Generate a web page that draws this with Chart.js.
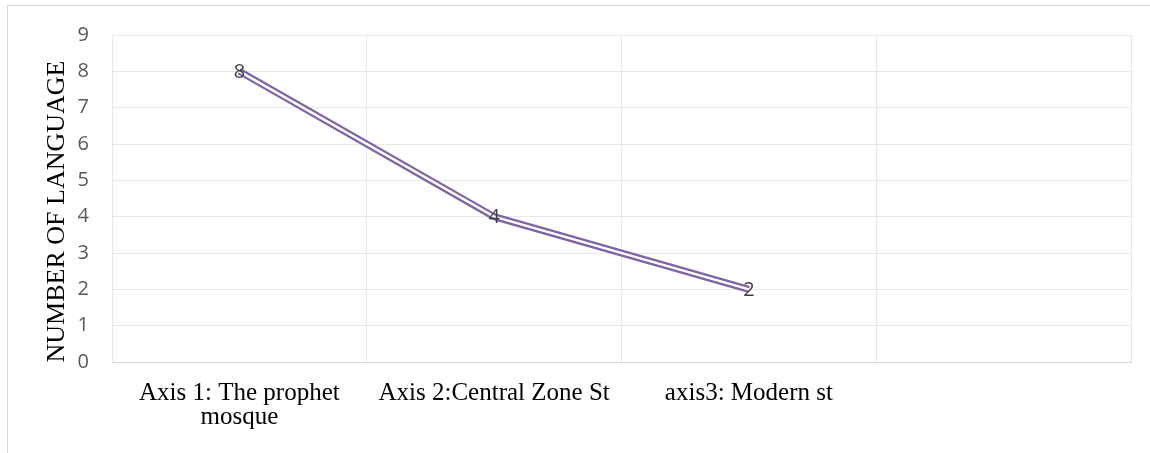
<!DOCTYPE html>
<html lang="en">
    <head>
        <meta charset="UTF-8">
        <title>Number of language</title>
        <script src="https://cdn.jsdelivr.net/npm/chart.js"></script>
        <style>
            body { margin: 0; background: #fff; }
            .wrap { position: relative; width: 1150px; height: 453px; }
            .frame { position: absolute; left: 7px; top: 5px; right: 0; bottom: 0; border-top: 1px solid #d9d9d9; border-left: 1px solid #d9d9d9; }
            #grafico { position: absolute; left: 0; top: 0; }
        </style>
    </head>
    <body>
        <div class="wrap">
            <div class="frame"></div>
            <canvas id="grafico" width="1150" height="453"></canvas>
        </div>
        <script>
            // datos
            const categorias = [
                ['Axis 1: The prophet', 'mosque'],
                'Axis 2:Central Zone St',
                'axis3: Modern st',
                ''
            ];
            const valores = [8, 4, 2, null];
            const ticksY = [0, 1, 2, 3, 4, 5, 6, 7, 8, 9];
            const tituloY = 'NUMBER OF LANGUAGE    ';

            const morado = '#7f63a6';

            // etiquetas de datos en el centro de cada punto
            const etiquetas = {
                id: 'etiquetas',
                afterDatasetsDraw(chart) {
                    const ctx = chart.ctx;
                    const meta = chart.getDatasetMeta(1);
                    ctx.save();
                    ctx.font = '20px "Open Sans"';
                    ctx.fillStyle = '#404040';
                    ctx.textAlign = 'center';
                    ctx.textBaseline = 'middle';
                    meta.data.forEach((p, i) => {
                        if (valores[i] == null) return;
                        ctx.fillText(String(valores[i]), p.x, p.y + 1);
                    });
                    ctx.restore();
                }
            };

            const ctx = document.getElementById('grafico').getContext('2d');
            new Chart(ctx, {
                type: 'line',
                data: {
                    labels: categorias,
                    datasets: [{
                        // linea blanca interior (linea doble)
                        data: valores,
                        borderColor: '#ffffff',
                        borderWidth: 2.5,
                        pointRadius: 0,
                        order: 0
                    }, {
                        data: valores,
                        borderColor: morado,
                        borderWidth: 7,
                        pointRadius: 0,
                        order: 1
                    }]
                },
                options: {
                    responsive: false,
                    animation: false,
                    layout: { padding: { top: 34, right: 19, left: 0, bottom: 0 } },
                    plugins: {
                        legend: { display: false },
                        tooltip: { enabled: false }
                    },
                    scales: {
                        x: {
                            offset: true,
                            grid: { offset: true, color: '#e8e8e8', drawTicks: false },
                            border: { color: '#d9d9d9' },
                            ticks: {
                                color: '#000',
                                font: { family: '"Liberation Serif"', size: 25, lineHeight: 0.96 },
                                padding: 19,
                                maxRotation: 0,
                                autoSkip: false
                            },
                            afterFit(scale) { scale.height = 91; }
                        },
                        y: {
                            min: 0,
                            max: 9,
                            afterBuildTicks(scale) { scale.ticks = ticksY.map(v => ({ value: v })); },
                            grid: { color: '#e8e8e8', drawTicks: false },
                            border: { display: false },
                            ticks: {
                                color: '#595959',
                                font: { family: '"Open Sans"', size: 20 },
                                padding: 23
                            },
                            title: {
                                display: true,
                                text: tituloY,
                                color: '#000',
                                font: { family: '"Liberation Serif"', size: 26 },
                                padding: { top: 42, bottom: 0 }
                            },
                            afterFit(scale) { scale.width = 112; }
                        }
                    }
                },
                plugins: [etiquetas]
            });
        </script>
    </body>
</html>
